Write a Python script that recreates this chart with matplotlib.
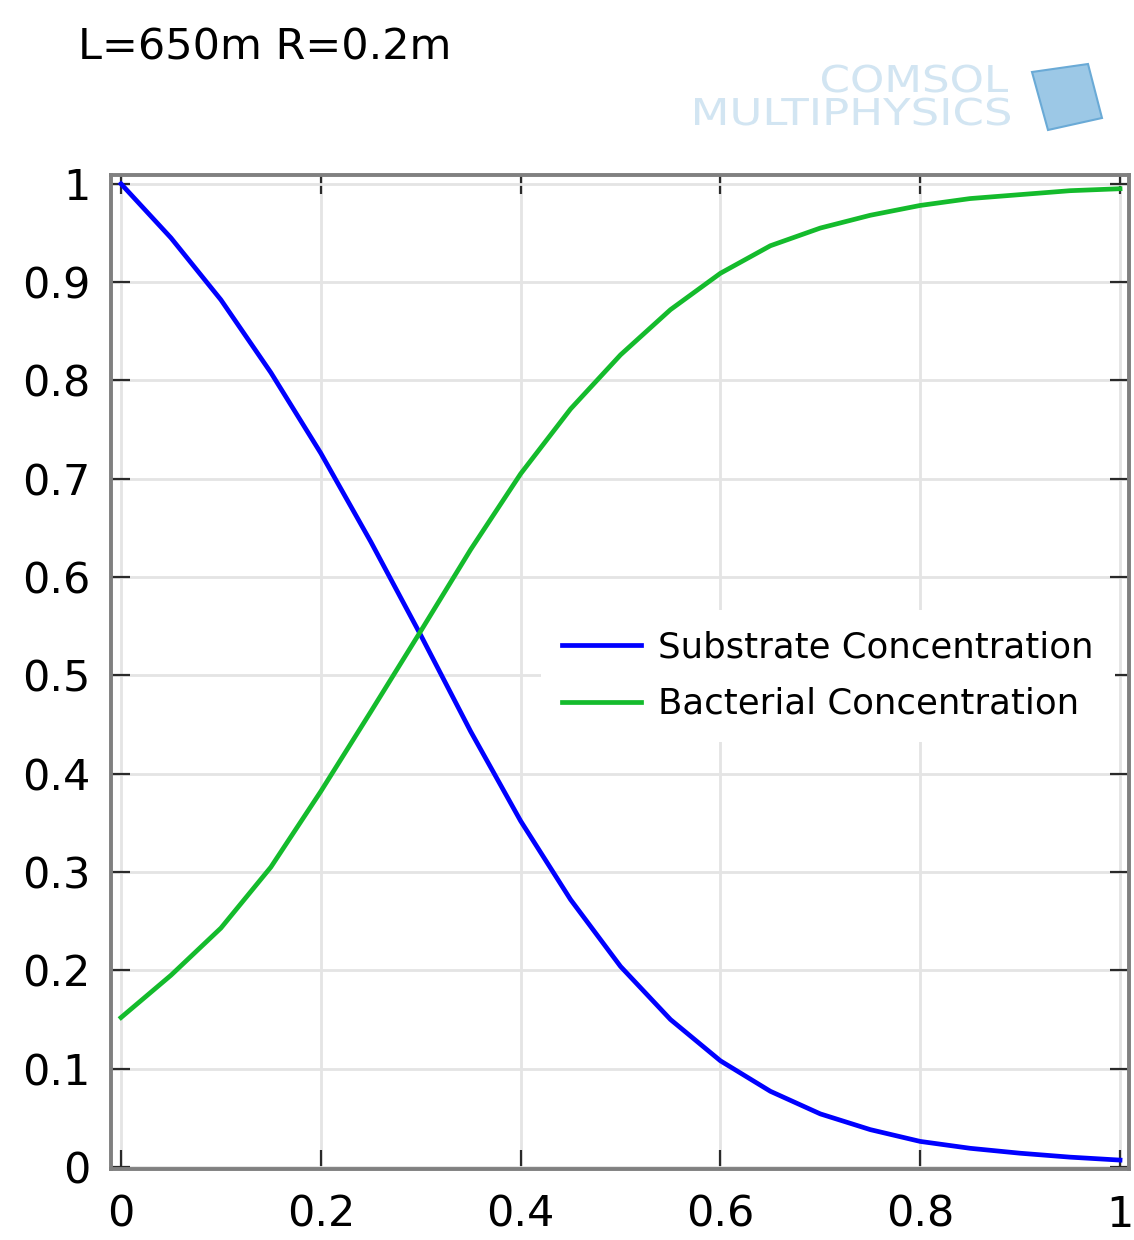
import matplotlib
matplotlib.use("Agg")
import matplotlib.pyplot as plt
from matplotlib.patches import Polygon, PathPatch
from matplotlib.textpath import TextPath
from matplotlib.transforms import Affine2D, IdentityTransform

# Values
x_vals = [0.0, 0.05, 0.1, 0.15, 0.2, 0.25, 0.3, 0.35, 0.4, 0.45, 0.5,
          0.55, 0.6, 0.65, 0.7, 0.75, 0.8, 0.85, 0.9, 0.95, 1.0]
substrate = [1.0, 0.945, 0.882, 0.808, 0.726, 0.636, 0.541, 0.443, 0.352, 0.272, 0.204,
             0.150, 0.108, 0.077, 0.054, 0.038, 0.026, 0.019, 0.014, 0.010, 0.007]
bacterial = [0.152, 0.195, 0.243, 0.305, 0.382, 0.463, 0.545, 0.628, 0.705, 0.771, 0.826,
             0.872, 0.909, 0.937, 0.955, 0.968, 0.978, 0.985, 0.989, 0.993, 0.995]
x_ticks = [0, 0.2, 0.4, 0.6, 0.8, 1]
x_tick_labels = ["0", "0.2", "0.4", "0.6", "0.8", "1"]
y_ticks = [0, 0.1, 0.2, 0.3, 0.4, 0.5, 0.6, 0.7, 0.8, 0.9, 1]
y_tick_labels = ["0", "0.1", "0.2", "0.3", "0.4", "0.5", "0.6", "0.7", "0.8", "0.9", "1"]

plt.rcParams['font.family'] = ['DejaVu Sans']

W, H = 1134, 1240
fig = plt.figure(figsize=(W / 100, H / 100), dpi=100)
ax = fig.add_axes([0.0979, 0.0573, 0.8977, 0.8016])

ax.plot(x_vals, substrate, color='#0000ff', lw=3.4, label='Substrate Concentration',
        solid_joinstyle='round', zorder=3)
ax.plot(x_vals, bacterial, color='#14bb2c', lw=3.4, label='Bacterial Concentration',
        solid_joinstyle='round', zorder=3)

ax.set_xlim(-0.010, 1.009)
ax.set_ylim(-0.002, 1.009)
ax.set_xticks(x_ticks)
ax.set_xticklabels(x_tick_labels)
ax.set_yticks(y_ticks)
ax.set_yticklabels(y_tick_labels)

ax.grid(True, color='#e4e4e4', lw=2.0, zorder=0)
ax.set_axisbelow(True)
for sp in ax.spines.values():
    sp.set_color('#808080')
    sp.set_linewidth(2.8)
ax.tick_params(direction='in', length=14, width=1.6, color='#2a2a2a',
               top=True, right=True, labelsize=31)
ax.tick_params(axis='x', pad=18)
ax.tick_params(axis='y', pad=15)

leg = ax.legend(loc='center right', bbox_to_anchor=(1.004, 0.496), fontsize=25.6,
                frameon=True, handlelength=2.2, handletextpad=0.5,
                labelspacing=0.62, borderpad=0.6)
leg.get_frame().set_edgecolor('none')
leg.get_frame().set_facecolor('white')
leg.get_frame().set_alpha(1.0)

# title
fig.text(78 / W, 1 - 47 / H, "L=650m R=0.2m", fontsize=31,
         ha='left', va='center', color='black')


# COMSOL watermark, drawn as wide outlined text in pixel coordinates
def wide_text(s, x0, x1, baseline, color):
    tp = TextPath((0, 0), s, size=37)
    ext = tp.get_extents()
    sx = (x1 - x0) / ext.width
    tr = Affine2D().translate(-ext.x0, 0).scale(sx, 1).translate(x0, H - baseline)
    fig.patches.append(PathPatch(tp, transform=tr + IdentityTransform(),
                                 facecolor=color, edgecolor='none'))


logo_c = '#d2e5f2'
wide_text("COMSOL", 822, 1008, 92, logo_c)
wide_text("MULTIPHYSICS", 695, 1010, 125, logo_c)
cube = Polygon([(1032 / W, 1 - 72 / H), (1088 / W, 1 - 64 / H),
                (1102 / W, 1 - 118 / H), (1048 / W, 1 - 130 / H)],
               closed=True, transform=fig.transFigure, facecolor='#9cc8e6',
               edgecolor='#6aaad6', lw=1.5)
fig.patches.append(cube)

fig.savefig('out.png', dpi=100)
